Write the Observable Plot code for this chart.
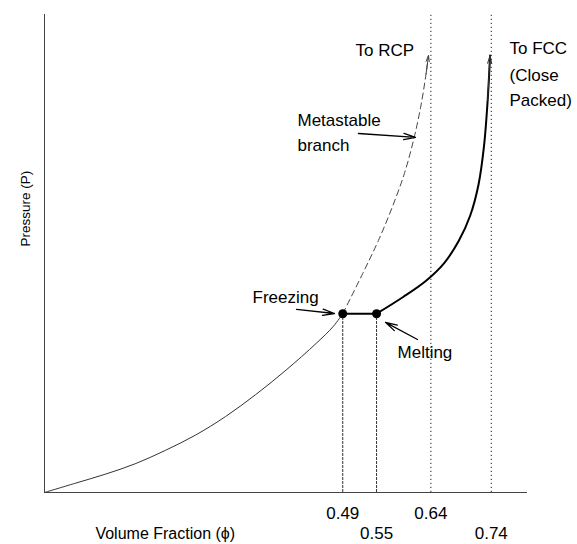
<!DOCTYPE html>
<html>
<head>
<meta charset="utf-8">
<script src="https://cdn.jsdelivr.net/npm/d3@7"></script>
<script src="https://cdn.jsdelivr.net/npm/@observablehq/plot@0.6"></script>
<style>
  html, body { margin: 0; padding: 0; background: #fff; }
  #chart { width: 577px; height: 544px; }
</style>
</head>
<body>
<div id="chart"></div>
<script>
// Fluid branch (thin solid)
const fluidV = [0, 0.05, 0.10, 0.15, 0.20, 0.25, 0.30, 0.35, 0.40, 0.45, 0.478, 0.494];
const fluidP = [0, 1.9, 3.8, 6.0, 8.8, 12.0, 15.9, 20.5, 25.6, 31.2, 34.7, 37.4];
// Metastable branch (dashed) to RCP
const metaV = [0.494, 0.527, 0.553, 0.576, 0.596, 0.611, 0.623, 0.632, 0.636];
const metaP = [37.4, 45.8, 52.7, 59.7, 66.7, 73.6, 80.6, 87.6, 91.4];
// Crystal branch (thick solid) to FCC
const crystV = [0.550, 0.594, 0.632, 0.662, 0.686, 0.705, 0.719, 0.728, 0.734, 0.738];
const crystP = [37.4, 40.9, 44.3, 48.0, 52.6, 57.9, 64.5, 72.5, 82.0, 91.4];
// Freezing / melting coexistence
const coexV = [0.494, 0.550];
const coexP = 37.4;
// Limits (dotted)
const limitV = [0.64, 0.74];
// Ticks
const tickValues = [0.494, 0.55, 0.64, 0.74];
const tickLabels = ["0.49", "0.55", "0.64", "0.74"];
const tickRow = [0, 1, 0, 1];
// Annotations
const noteLines = ["To RCP", "To FCC", "(Close", "Packed)", "Metastable", "branch", "Freezing", "Melting"];
const noteV = [0.5151, 0.7702, 0.7702, 0.7702, 0.4190, 0.4190, 0.3445, 0.5847];
const noteP = [92.5, 92.9, 87.2, 82.0, 77.8, 72.6, 40.8, 29.3];
const arrowV1 = [0.5201, 0.4174, 0.6178];
const arrowP1 = [75.1, 38.3, 32.0];
const arrowV2 = [0.6145, 0.4803, 0.5648];
const arrowP2 = [74.3, 37.45, 35.6];
const xTitle = "Volume Fraction (ϕ)";
const yTitle = "Pressure (P)";
const yTitleP = 59.4;

const toPts = (vs, ps) => vs.map((v, i) => ({v, p: ps[i]}));
const fluid = toPts(fluidV, fluidP);
const meta = toPts(metaV, metaP);
const cryst = toPts(crystV, crystP);
const ticks = tickValues.map((v, i) => ({v, label: tickLabels[i], row: tickRow[i]}));
const notes = noteLines.map((t, i) => ({t, v: noteV[i], p: noteP[i]}));
const arrows = arrowV1.map((v, i) => ({x1: v, y1: arrowP1[i], x2: arrowV2[i], y2: arrowP2[i]}));
const tipArrow = (pts) => [{x1: pts[pts.length - 2].v, y1: pts[pts.length - 2].p, x2: pts[pts.length - 1].v, y2: pts[pts.length - 1].p}];

const font = "Liberation Sans, Arial, Helvetica, sans-serif";

const chart = Plot.plot({
  width: 577,
  height: 544,
  marginLeft: 44,
  marginRight: 50,
  marginTop: 14,
  marginBottom: 52,
  x: {domain: [0, 0.8], axis: null},
  y: {domain: [0, 100], axis: null},
  style: {fontFamily: font, fontSize: "16px", background: "white", color: "black"},
  marks: [
    // frame lines
    Plot.ruleX([0], {y1: 0, y2: 100, stroke: "#444", strokeWidth: 1}),
    Plot.ruleY([0], {x1: 0, x2: 0.8, stroke: "#444", strokeWidth: 1}),
    // dotted limits
    Plot.ruleX(limitV, {y1: 0, y2: 100, stroke: "#222", strokeWidth: 1, strokeDasharray: "1.2,2.8"}),
    // drop lines from coexistence points
    Plot.ruleX(coexV, {y1: 0, y2: coexP, stroke: "#333", strokeWidth: 1, strokeDasharray: "3,1"}),
    // branches
    Plot.line(fluid, {x: "v", y: "p", curve: "catmull-rom", stroke: "#333", strokeWidth: 1}),
    Plot.line(meta, {x: "v", y: "p", curve: "catmull-rom", stroke: "#444", strokeWidth: 1, strokeDasharray: "6,4"}),
    Plot.arrow(tipArrow(meta), {x1: "x1", y1: "y1", x2: "x2", y2: "y2", stroke: "#444", strokeWidth: 1, headLength: 12, headAngle: 30}),
    Plot.line(cryst, {x: "v", y: "p", curve: "catmull-rom", stroke: "black", strokeWidth: 2}),
    Plot.arrow(tipArrow(cryst), {x1: "x1", y1: "y1", x2: "x2", y2: "y2", stroke: "#333", strokeWidth: 1, headLength: 12, headAngle: 30}),
    // tie line
    Plot.ruleY([coexP], {x1: coexV[0], x2: coexV[1], stroke: "black", strokeWidth: 2}),
    Plot.dot(coexV, {x: d => d, y: () => coexP, r: 4.5, fill: "black", stroke: "none"}),
    // annotation arrows
    Plot.arrow(arrows, {x1: "x1", y1: "y1", x2: "x2", y2: "y2", stroke: "black", strokeWidth: 1.3, headLength: 14, headAngle: 30}),
    // annotation text
    Plot.text(notes, {x: "v", y: "p", text: "t", textAnchor: "start", lineAnchor: "middle", fontSize: 17, fill: "black"}),
    // tick labels
    Plot.text(ticks.filter(d => d.row === 0), {x: "v", text: "label", frameAnchor: "bottom", dy: 21, textAnchor: "middle", lineAnchor: "middle", fontSize: 17, fill: "black"}),
    Plot.text(ticks.filter(d => d.row === 1), {x: "v", text: "label", frameAnchor: "bottom", dy: 41, textAnchor: "middle", lineAnchor: "middle", fontSize: 17, fill: "black"}),
    // axis titles
    Plot.text([xTitle], {x: 0.2, frameAnchor: "bottom", dy: 41, textAnchor: "middle", lineAnchor: "middle", fontSize: 16, fill: "black"}),
    Plot.text([yTitle], {frameAnchor: "left", y: () => yTitleP, dx: -19, rotate: -90, textAnchor: "middle", lineAnchor: "middle", fontSize: 13.5, fill: "black"})
  ]
});
document.getElementById("chart").appendChild(chart);
</script>
</body>
</html>
